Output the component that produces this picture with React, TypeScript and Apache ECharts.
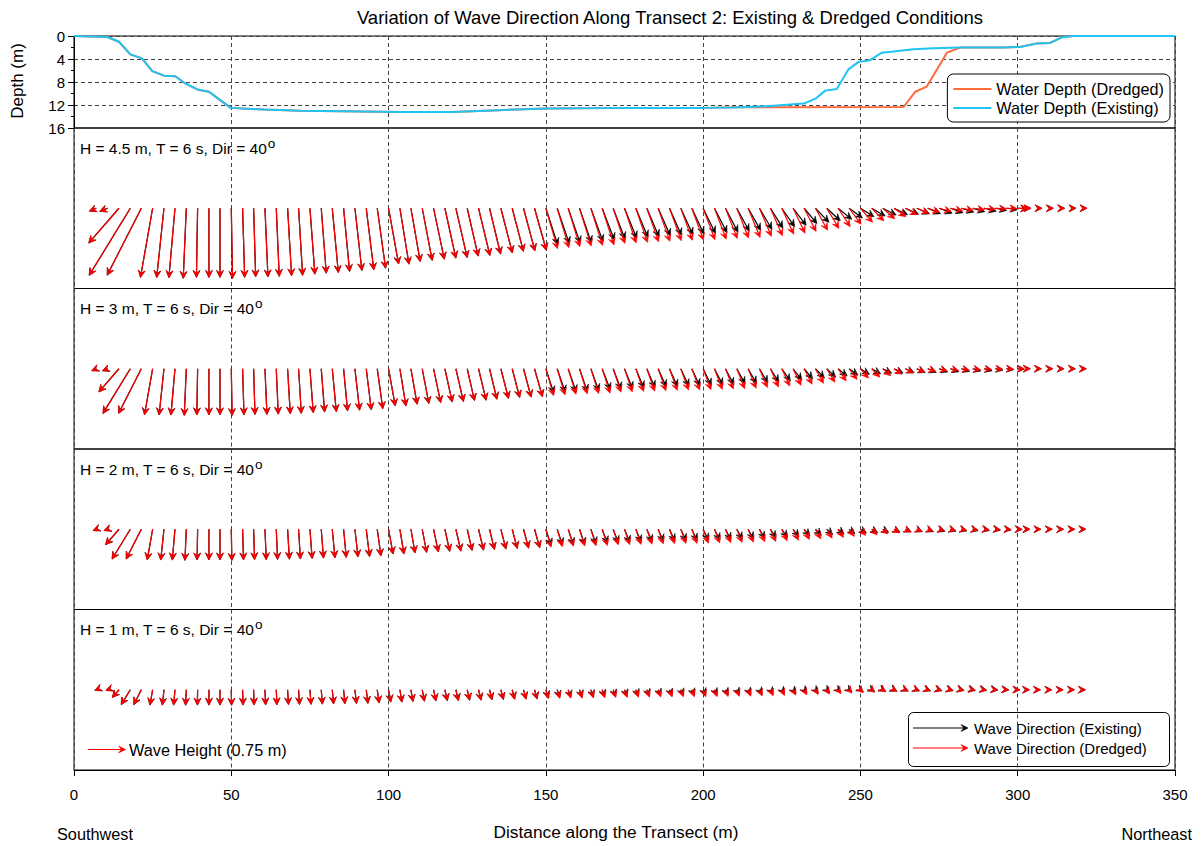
import React, { useEffect, useRef } from "react";
import * as echarts from "echarts";

// ---------- DATA ----------
// distance (m) of each wave-vector output point along the transect
const distance = [
  7.1, 10.7, 14.3, 17.9, 21.4, 25, 28.6, 32.1, 35.7, 39.3, 42.9, 46.4, 50,
  53.6, 57.1, 60.7, 64.3, 67.9, 71.4, 75, 78.6, 82.1, 85.7, 89.3, 92.9, 96.4, 100,
  103.6, 107.1, 110.7, 114.3, 117.9, 121.4, 125, 128.6, 132.1, 135.7, 139.3, 142.9, 146.4, 150,
  153.6, 157.1, 160.7, 164.3, 167.9, 171.4, 175, 178.6, 182.1, 185.7, 189.3, 192.9, 196.4, 200,
  203.6, 207.1, 210.7, 214.3, 217.9, 221.4, 225, 228.6, 232.1, 235.7, 239.3, 242.9, 246.4, 250,
  253.6, 257.1, 260.7, 264.3, 267.9, 271.4, 275, 278.6, 282.1, 285.7, 289.3, 292.9, 296.4, 300,
  303.6, 307.1, 310.7, 314.3, 317.9, 321.4,
];
// drawn wave height (m, vector scale) for the H = 4.5 m case
const heightDredged = [
  0.15, 0.17, 0.92, 1.57, 1.5, 1.4, 1.39, 1.39, 1.4, 1.38, 1.38, 1.38, 1.4,
  1.38, 1.37, 1.37, 1.36, 1.35, 1.34, 1.32, 1.3, 1.29, 1.27, 1.25, 1.24, 1.21, 1.13,
  1.13, 1.08, 1.06, 1.04, 1.02, 1.01, 0.98, 0.97, 0.94, 0.92, 0.89, 0.88, 0.87, 0.84,
  0.82, 0.8, 0.79, 0.78, 0.77, 0.74, 0.73, 0.72, 0.71, 0.7, 0.69, 0.68, 0.68, 0.67,
  0.66, 0.65, 0.64, 0.63, 0.61, 0.6, 0.57, 0.55, 0.52, 0.5, 0.47, 0.44, 0.4, 0.37,
  0.35, 0.32, 0.29, 0.27, 0.26, 0.25, 0.25, 0.25, 0.24, 0.24, 0.23, 0.22, 0.21, 0.2,
  0.04, 0.04, 0.04, 0.04, 0.04, 0.04,
];
const heightExisting = [
  0.15, 0.17, 0.92, 1.57, 1.5, 1.4, 1.39, 1.39, 1.4, 1.38, 1.38, 1.38, 1.4,
  1.38, 1.37, 1.37, 1.36, 1.35, 1.34, 1.32, 1.3, 1.29, 1.27, 1.25, 1.24, 1.21, 1.13,
  1.13, 1.08, 1.06, 1.04, 1.02, 1.01, 0.98, 0.97, 0.94, 0.92, 0.89, 0.88, 0.87, 0.77,
  0.75, 0.74, 0.73, 0.71, 0.68, 0.66, 0.65, 0.63, 0.62, 0.6, 0.59, 0.58, 0.57, 0.56,
  0.55, 0.54, 0.52, 0.51, 0.49, 0.47, 0.45, 0.43, 0.4, 0.39, 0.37, 0.35, 0.33, 0.32,
  0.31, 0.3, 0.3, 0.29, 0.28, 0.28, 0.28, 0.27, 0.26, 0.25, 0.25, 0.23, 0.22, 0.2,
  0.04, 0.04, 0.04, 0.04, 0.04, 0.04,
];
// direction of travel drawn on the page (deg clockwise from up)
const dirDredged = [
  247, 249, 221, 211.5, 207, 190, 186, 185, 182.5, 181, 180, 180, 179,
  178.3, 178.3, 177.5, 177.5, 176.6, 176.6, 175.7, 175.6, 174.6, 174.6, 173.6, 173, 172.1, 169.8,
  170.8, 170.1, 169.2, 168.1, 167.6, 167.1, 167.1, 166.5, 166.5, 165.6, 165.4, 165, 164.3, 163.9,
  163.5, 163.1, 162.8, 162.5, 162.2, 161.6, 161.4, 161.1, 160.7, 160.5, 160, 160, 159.8, 159.5,
  159.2, 158.7, 158.4, 157.7, 157, 156.3, 155.2, 154.4, 152.7, 151, 149, 146.7, 143.1, 139.4,
  136.2, 131.2, 125.3, 118.4, 112.6, 108.4, 104, 101.8, 99.5, 97.1, 95, 92.6, 91.6, 90,
  90, 90, 90, 90, 90, 90,
];
const dirExisting = [
  247, 249, 221, 211.5, 207, 190, 186, 185, 182.5, 181, 180, 180, 179,
  178.3, 178.3, 177.5, 177.5, 176.6, 176.6, 175.7, 175.6, 174.6, 174.6, 173.6, 173, 172.1, 169.8,
  170.8, 170.1, 169.2, 168.1, 167.6, 167.1, 167.1, 166.5, 166.5, 165.6, 165.4, 165, 164.3, 162,
  161, 161, 161, 160, 159, 159, 158, 157.5, 157, 156, 156, 155.5, 155, 154,
  153, 152.5, 151.5, 150.5, 149.5, 148, 145, 142.5, 140, 136, 133, 129, 126, 122,
  120, 117, 116, 114.8, 114, 113, 111, 109.8, 107.7, 106.3, 104, 100.8, 97.8, 94,
  90, 90, 90, 90, 90, 90,
];
const panelWaveHeights = [4.5, 3, 2, 1];
const panelPeriod = 6;
const panelDirection = 40;
const referenceHeight = 0.75;

const depthExistingX = [
  0, 10.6, 14.3, 17.9, 21.6, 24.9, 28.6, 32.2, 35.5, 39.2, 42.9, 46.6, 49.8, 60.4, 72,
  104, 120, 135, 150, 180, 200, 209.7, 220.3, 227.7, 232, 235.7, 238.8, 242.5, 246.2,
  249.4, 253.1, 256.8, 260.5, 266.9, 273.2, 281.7, 289.1, 295.4, 300.7, 306, 310.3, 314, 317.7, 350,
];
const depthExistingY = [
  0, 0.17, 1.0, 3.2, 3.9, 6.1, 6.9, 7.0, 8.3, 9.3, 9.7, 11.2, 12.5, 12.8, 13.0,
  13.2, 13.2, 12.9, 12.6, 12.5, 12.5, 12.45, 12.2, 11.9, 11.75, 10.9, 9.5, 9.2, 5.8,
  4.5, 4.2, 2.9, 2.7, 2.3, 2.15, 2.0, 2.0, 2.0, 1.9, 1.3, 1.2, 0.23, 0, 0,
];
const depthDredgedX = [
  0, 10.6, 14.3, 17.9, 21.6, 24.9, 28.6, 32.2, 35.5, 39.2, 42.9, 46.6, 49.8, 60.4, 72,
  104, 120, 135, 150, 180, 200, 209.7, 263.7, 267.4, 271.1, 277.5, 281.7, 289.1, 295.4,
  300.7, 306, 310.3, 314, 317.7, 350,
];
const depthDredgedY = [
  0, 0.17, 1.0, 3.2, 3.9, 6.1, 6.9, 7.0, 8.3, 9.3, 9.7, 11.2, 12.5, 12.8, 13.0,
  13.2, 13.2, 12.9, 12.6, 12.5, 12.5, 12.4, 12.35, 9.7, 8.8, 2.9, 2.0, 2.0, 2.0,
  1.9, 1.3, 1.2, 0.23, 0, 0,
];

// ---------- LAYOUT / STYLE ----------
const FONT = "'Liberation Sans', Arial, Helvetica, sans-serif";
const GL = 74;
const GR = 1202 - 1175;
const DEPTH_TOP = 36;
const DEPTH_H = 92;
const V_TOP = 128;
const V_H = 160.5;
const V_RANGE = 1.6;
const RED = "#ff0000";
const BLACK = "#000000";
const C_DREDGED = "#ff6a3a";
const C_EXISTING = "#1ec4f2";
const GRID_DASH = { color: "#444", width: 1, type: [4, 3] as any };

function arrowParts(x1: number, y1: number, x2: number, y2: number, color: string) {
  const dx = x2 - x1;
  const dy = y2 - y1;
  const len = Math.sqrt(dx * dx + dy * dy) || 1;
  const ux = dx / len;
  const uy = dy / len;
  const hl = 7;
  const hw = 3.4;
  const bx = x2 - ux * hl;
  const by = y2 - uy * hl;
  const nx = x2 - ux * hl * 0.6;
  const ny = y2 - uy * hl * 0.6;
  const px = -uy;
  const py = ux;
  return [
    {
      type: "line",
      shape: { x1, y1, x2: nx, y2: ny },
      style: { stroke: color, lineWidth: 1.2 },
      silent: true,
    },
    {
      type: "polygon",
      shape: {
        points: [
          [x2, y2],
          [bx + px * hw, by + py * hw],
          [nx, ny],
          [bx - px * hw, by - py * hw],
        ],
      },
      style: { fill: color, stroke: color, lineWidth: 0.6 },
      silent: true,
    },
  ];
}

function makeArrowRenderer(color: string) {
  return (params: any, api: any) => {
    const x = api.value(0);
    const h = api.value(1);
    const dir = (api.value(2) * Math.PI) / 180;
    const tail = api.coord([x, 0]);
    const pxPerM = Math.abs(api.size([0, 1])[1]);
    const L = h * pxPerM;
    const tx = tail[0] + Math.sin(dir) * L;
    const ty = tail[1] - Math.cos(dir) * L;
    let sx = tail[0];
    let sy = tail[1];
    if (L < 0.5) {
      sx = tx - Math.sin(dir) * 0.5;
      sy = ty + Math.cos(dir) * 0.5;
    }
    return { type: "group", children: arrowParts(sx, sy, tx, ty, color) };
  };
}

function measure(text: string, size: number) {
  const c = document.createElement("canvas").getContext("2d");
  if (!c) return text.length * size * 0.5;
  c.font = `${size}px 'Liberation Sans', Arial, sans-serif`;
  return c.measureText(text).width;
}

export default function App() {
  const ref = useRef<HTMLDivElement>(null);

  useEffect(() => {
    if (!ref.current) return;
    const chart = echarts.init(ref.current, null, { renderer: "svg" });

    const grids: any[] = [
      { left: GL, right: GR, top: DEPTH_TOP, height: DEPTH_H, show: true, borderColor: "#000", borderWidth: 1 },
    ];
    const xAxes: any[] = [];
    const yAxes: any[] = [];
    const baseX = (gi: number, bottom: boolean) => ({
      type: "value",
      gridIndex: gi,
      position: "bottom",
      min: 0,
      max: 350,
      interval: 50,
      axisLine: { show: bottom, onZero: false, lineStyle: { color: "#000" } },
      axisTick: { show: bottom, length: 6, lineStyle: { color: "#000" } },
      axisLabel: {
        show: bottom,
        fontSize: 15,
        fontFamily: FONT,
        color: "#000",
        margin: 17,
      },
      splitLine: { show: true, lineStyle: GRID_DASH },
    });
    xAxes.push(baseX(0, false));
    yAxes.push({
      type: "value",
      gridIndex: 0,
      inverse: true,
      min: 0,
      max: 16,
      interval: 4,
      axisLine: { show: true, onZero: false, lineStyle: { color: "#000" } },
      axisTick: { show: true, length: 6, lineStyle: { color: "#000" } },
      minorTick: { show: true, splitNumber: 2, length: 3, lineStyle: { color: "#000" } },
      axisLabel: { fontSize: 15, fontFamily: FONT, color: "#000", margin: 9 },
      splitLine: { show: true, lineStyle: GRID_DASH },
    });
    panelWaveHeights.forEach((_, p) => {
      grids.push({
        left: GL,
        right: GR,
        top: V_TOP + p * V_H,
        height: V_H,
        show: true,
        borderColor: "#000",
        borderWidth: 1,
      });
      xAxes.push(baseX(p + 1, p === panelWaveHeights.length - 1));
      yAxes.push({
        type: "value",
        gridIndex: p + 1,
        min: -V_RANGE,
        max: V_RANGE,
        show: false,
        splitLine: { show: false },
      });
    });

    const series: any[] = [
      {
        type: "line",
        name: "Water Depth (Dredged)",
        xAxisIndex: 0,
        yAxisIndex: 0,
        data: depthDredgedX.map((x, i) => [x, depthDredgedY[i]]),
        symbol: "none",
        showSymbol: false,
        lineStyle: { color: C_DREDGED, width: 2 },
        itemStyle: { color: C_DREDGED },
      },
      {
        type: "line",
        name: "Water Depth (Existing)",
        xAxisIndex: 0,
        yAxisIndex: 0,
        data: depthExistingX.map((x, i) => [x, depthExistingY[i]]),
        symbol: "none",
        showSymbol: false,
        lineStyle: { color: C_EXISTING, width: 2 },
        itemStyle: { color: C_EXISTING },
      },
    ];
    panelWaveHeights.forEach((H0, p) => {
      const f = H0 / panelWaveHeights[0];
      series.push({
        type: "custom",
        name: "Wave Direction (Existing)",
        xAxisIndex: p + 1,
        yAxisIndex: p + 1,
        renderItem: makeArrowRenderer(BLACK),
        data: distance.map((x, i) => [x, heightExisting[i] * f, dirExisting[i]]),
        encode: { x: 0, y: 1 },
        silent: true,
      });
      series.push({
        type: "custom",
        name: "Wave Direction (Dredged)",
        xAxisIndex: p + 1,
        yAxisIndex: p + 1,
        renderItem: makeArrowRenderer(RED),
        data: distance.map((x, i) => [x, heightDredged[i] * f, dirDredged[i]]),
        encode: { x: 0, y: 1 },
        silent: true,
      });
    });

    const txt = (text: string, x: number, y: number, size: number, extra: any = {}) => ({
      type: "text",
      x,
      y,
      silent: true,
      ...extra,
      style: {
        text,
        fontSize: size,
        fontFamily: FONT,
        fill: "#000",
        align: "left",
        verticalAlign: "middle",
        ...(extra.style || {}),
      },
    });

    const graphics: any[] = [];
    graphics.push(
      txt("Variation of Wave Direction Along Transect 2: Existing & Dredged Conditions", 670, 17, 18.5, {
        style: { align: "center" },
      })
    );
    graphics.push(txt("Depth (m)", 17, 81, 17, { rotation: Math.PI / 2, style: { align: "center" } }));
    panelWaveHeights.forEach((H0, p) => {
      const label = `H = ${H0} m, T = ${panelPeriod} s, Dir = ${panelDirection}`;
      const y = V_TOP + p * V_H + 20;
      graphics.push(txt(label, 80, y, 15.5));
      graphics.push(txt("o", 80 + measure(label, 15.5) + 0.5, y - 5, 13.5));
    });
    graphics.push(txt("Distance along the Transect (m)", 616, 832, 17.3, { style: { align: "center" } }));
    graphics.push(txt("Southwest", 57, 834, 16.3));
    graphics.push(txt("Northeast", 1192, 834, 16.3, { style: { align: "right" } }));

    // reference vector (length from the vector-panel scale)
    const pxPerM = V_H / (2 * V_RANGE);
    const refY = V_TOP + 3 * V_H + 140;
    graphics.push(...arrowParts(88, refY, 88 + referenceHeight * pxPerM, refY, RED));
    graphics.push(txt(`Wave Height (${referenceHeight} m)`, 129, refY, 16.3));

    // vector legend box
    graphics.push({
      type: "rect",
      shape: { x: 908.5, y: 712.5, width: 261, height: 54, r: 5 },
      style: { fill: "#fff", stroke: "#000", lineWidth: 1 },
      silent: true,
    });
    graphics.push(...arrowParts(913, 728, 968, 728, BLACK));
    graphics.push(txt("Wave Direction (Existing)", 974, 728, 15));
    graphics.push(...arrowParts(913, 748, 968, 748, RED));
    graphics.push(txt("Wave Direction (Dredged)", 974, 748, 15));

    chart.setOption({
      animation: false,
      backgroundColor: "#fff",
      grid: grids,
      xAxis: xAxes,
      yAxis: yAxes,
      legend: {
        data: ["Water Depth (Dredged)", "Water Depth (Existing)"],
        orient: "vertical",
        right: 32,
        top: 74,
        icon: "rect",
        itemWidth: 38,
        itemHeight: 2,
        itemGap: 1,
        padding: [6, 6, 5, 6],
        borderColor: "#000",
        borderWidth: 1,
        borderRadius: 6,
        backgroundColor: "#fff",
        textStyle: { fontSize: 16.2, lineHeight: 18, fontFamily: FONT, color: "#000" },
        selectedMode: false,
      },
      series,
      graphic: graphics,
    });

    return () => chart.dispose();
  }, []);

  return (
    <div
      ref={ref}
      style={{ position: "fixed", left: 0, top: 0, width: 1202, height: 846, background: "#fff" }}
    />
  );
}
